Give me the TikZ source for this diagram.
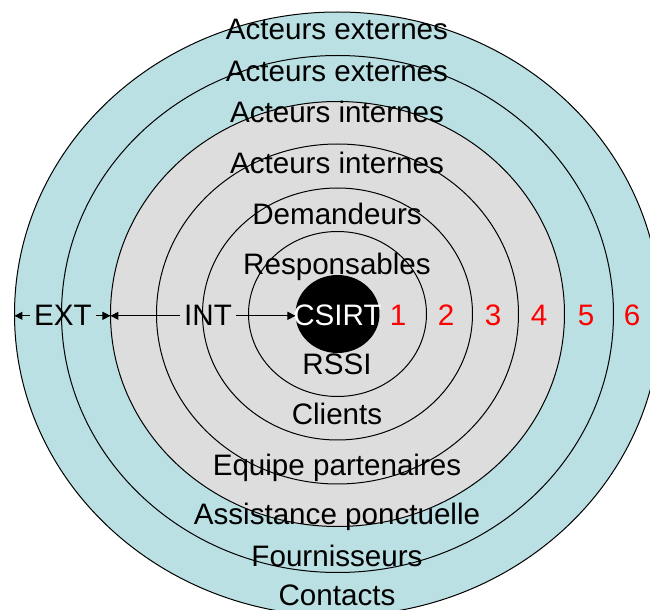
\documentclass[tikz,border=0pt]{standalone}
\usepackage{fontspec}
\setmainfont{Liberation Sans}
\usepackage{xcolor}
\usepackage{tikz}
\usetikzlibrary{arrows.meta}

\definecolor{extblue}{RGB}{186,224,227}
\definecolor{intgray}{RGB}{221,221,221}

\begin{document}
\begin{tikzpicture}[x=0.5pt, y=-0.5pt, line width=0.5pt,
    font=\fontsize{14.8}{17}\selectfont,
    ring/.style={draw=black, fill=#1},
    lbl/.style={anchor=base, inner sep=0pt},
    num/.style={anchor=base, inner sep=0pt, text=red},
    arr/.style={-{Triangle[length=4pt, width=4pt]}}]
    \useasboundingbox (0,0) rectangle (650,610);

    % anneaux (du plus grand au plus petit)
    \foreach \rx/\ry/\col in {323/302/extblue, 276/258.5/extblue,
        227/212.5/intgray, 181/170/intgray, 135/126/intgray, 89/82.5/intgray}
        \filldraw[ring=\col] (337.5,314) ellipse [x radius=\rx, y radius=\ry];

    % bords gauches des anneaux et du noyau
    \coordinate (o6) at (14.5,314);
    \coordinate (o4) at (110.5,314);
    \coordinate (o0) at (295.5,314);

    % noyau
    \fill[black] (337.5,314) ellipse [x radius=42, y radius=39];
    \node[lbl, text=white] (csirt) at (337.5,326) {CSIRT};

    % acteurs au-dessus
    \node[lbl] (ext1) at (337,40) {Acteurs externes};
    \node[lbl] (ext2) at (337,82) {Acteurs externes};
    \node[lbl] (int1) at (337,123) {Acteurs internes};
    \node[lbl] (int2) at (337,174) {Acteurs internes};
    \node[lbl] (dem) at (337,225) {Demandeurs};
    \node[lbl] (resp) at (337,275) {Responsables};

    % acteurs au-dessous
    \node[lbl] (rssi) at (337,375) {RSSI};
    \node[lbl] (cli) at (337,425) {Clients};
    \node[lbl] (equ) at (337,476) {Equipe partenaires};
    \node[lbl] (ass) at (337,525) {Assistance ponctuelle};
    \node[lbl] (fou) at (337,567) {Fournisseurs};
    \node[lbl] (con) at (337,606) {Contacts};

    % numeros des anneaux
    \foreach \n/\xx in {1/398, 2/446, 3/493, 4/539, 5/586, 6/632}
        \node[num] (n\n) at (\xx,326) {\n};

    % EXT / INT
    \node[lbl, inner sep=2pt] (ext) at (63,326) {EXT};
    \node[lbl, inner sep=2pt] (int) at (208,326) {INT};
    \draw[arr] (ext) -- (ext -| o6);
    \draw[arr] (ext) -- (ext -| o4);
    \draw[arr] (int) -- (int -| o4);
    \draw[arr] (int) -- (int -| o0);
\end{tikzpicture}
\end{document}
